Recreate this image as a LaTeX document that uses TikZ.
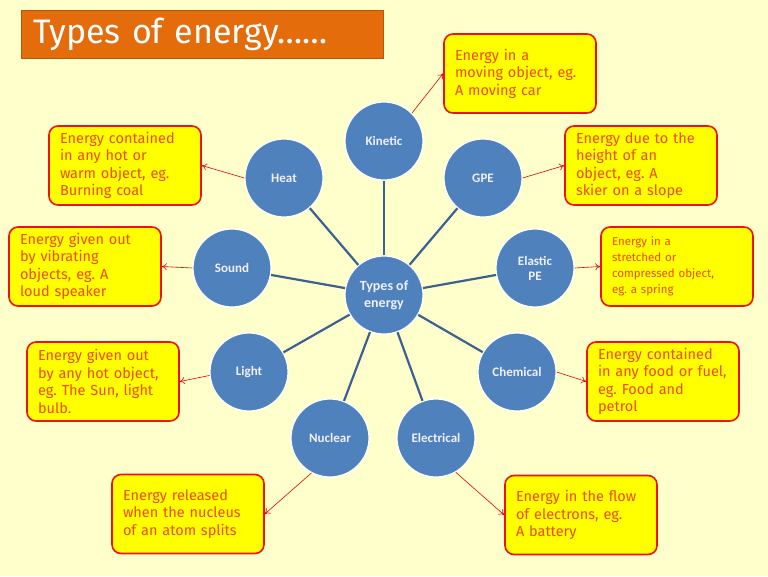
\documentclass[tikz,border=0pt]{standalone}
\usepackage{fontspec}
\setmainfont{Carlito}
\newfontfamily\boxfont{Fira Sans}
\usetikzlibrary{arrows.meta}
\definecolor{bg}{HTML}{FFFFCC}
\definecolor{orng}{HTML}{E46C0A}
\definecolor{cblue}{HTML}{4F81BD}
\definecolor{spk}{HTML}{3B6190}
\definecolor{btxt}{HTML}{F04A0E}
\definecolor{bylw}{HTML}{FFFF00}
\definecolor{bred}{HTML}{F01010}
\frenchspacing
\begin{document}
\begin{tikzpicture}[x=1pt,y=-1pt,
  circ/.style={circle,fill=cblue,draw=white,line width=1.2pt,minimum size=78pt,inner sep=0pt,text=white!94!blue,font=\bfseries\fontsize{13}{15}\selectfont,align=center},
  infobox/.style={rectangle,rounded corners=9pt,fill=bylw,draw=bred,line width=1.6pt,minimum width=152pt,minimum height=79pt,text width=130pt,align=left,inner sep=0pt,text=btxt,font=\boxfont\fontsize{14.5}{17.5}\selectfont},
  spoke/.style={draw=spk,line width=2.2pt},
  arr/.style={draw=red!90!black,line width=0.6pt,-{To[length=5pt,width=7pt]}}]
\useasboundingbox (0,0) rectangle (768,576);
\fill[bg] (0,0) rectangle (768,576);
% title
\node[fill=orng,draw=orng!80!black,line width=0.5pt,minimum width=362pt,minimum height=48pt,inner sep=0pt,anchor=north west,text=white,font=\boxfont\fontsize{34}{36}\selectfont,text width=338pt,align=left] (title) at (21,10) {Types of energy\ldots\ldots};
% circles
\node[circ,font=\bfseries\fontsize{14}{17}\selectfont] (ctr) at (384,295) {Types of\\energy};
\node[circ] (kin) at (384,141) {Kinetic};
\node[circ] (gpe) at (483,178) {GPE};
\node[circ] (ela) at (535,268) {Elastic\\PE};
\node[circ] (chem) at (517,372) {Chemical};
\node[circ] (ele) at (436,438) {Electrical};
\node[circ] (nuc) at (330,438) {Nuclear};
\node[circ] (lig) at (249,372) {Light};
\node[circ] (snd) at (232,268) {Sound};
\node[circ] (heat) at (284,178) {Heat};
% spokes
\foreach \n in {kin,gpe,ela,chem,ele,nuc,lig,snd,heat}{\draw[spoke] (ctr) -- (\n);}
% boxes
\node[infobox] (kinbox) at (520,73.5) {Energy in a\\moving object, eg.\\A moving car};
\node[infobox] (gpebox) at (641,165.5) {Energy due to the\\height of an\\object, eg. A\\skier on a slope};
\node[infobox,font=\boxfont\fontsize{11.5}{16}\selectfont] (elabox) at (677,266.5) {Energy in a\\stretched or\\compressed object,\\eg. a spring};
\node[infobox] (chembox) at (663,381.5) {Energy contained\\in any food or fuel,\\eg. Food and\\petrol};
\node[infobox] (elebox) at (581,515) {Energy in the flow\\of electrons, eg.\\A battery};
\node[infobox] (nucbox) at (188,514) {Energy released\\when the nucleus\\of an atom splits};
\node[infobox] (ligbox) at (103,381.5) {Energy given out\\by any hot object,\\eg. The Sun, light\\bulb.};
\node[infobox] (sndbox) at (85,266.5) {Energy given out\\by vibrating\\objects, eg. A\\loud speaker};
\node[infobox] (heatbox) at (125,165.5) {Energy contained\\in any hot or\\warm object, eg.\\Burning coal};
% arrows
\draw[arr] (kin.45) -- (kinbox.west);
\draw[arr] (gpe.east) -- (gpebox.west);
\draw[arr] (ela.east) -- (elabox.west);
\draw[arr] (chem.east) -- (chembox.west);
\draw[arr] (ele.-60) -- (elebox.west);
\draw[arr] (nuc.-118) -- (nucbox.east);
\draw[arr] (lig.185) -- (ligbox.east);
\draw[arr] (snd.west) -- (sndbox.east);
\draw[arr] (heat.west) -- (heatbox.east);
\end{tikzpicture}
\end{document}
